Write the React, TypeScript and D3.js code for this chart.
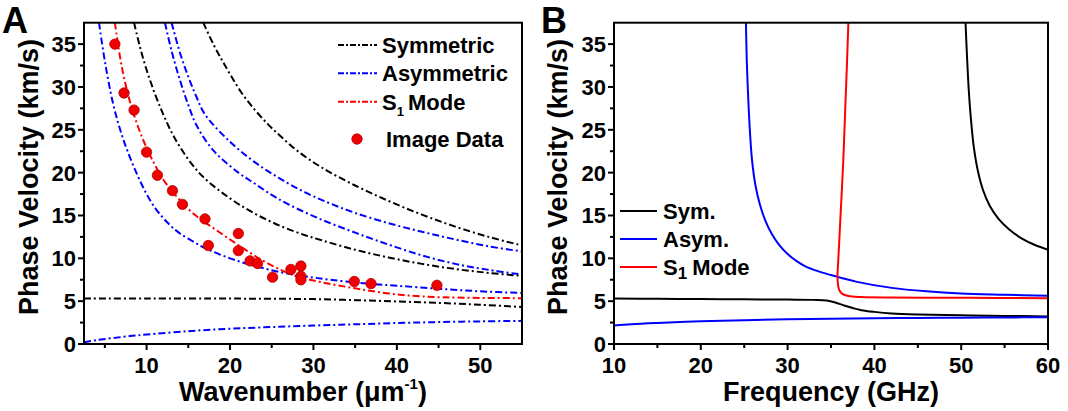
import * as d3 from "d3";

// ---------- panel A: wavenumber (um^-1) vs phase velocity (km/s) ----------
const symFlatA = [[2.5, 5.3], [10, 5.3], [20, 5.3], [25, 5.28], [30, 5.24], [35, 5.12], [40, 4.97], [45, 4.8], [50, 4.58], [55, 4.32]];
const symMidA = [[8.5, 37.5], [9.2, 34.7], [10, 32], [11, 29.2], [12, 26.8], [13, 24.7], [14, 23.0], [15.5, 20.9], [17, 19.3], [20, 17.0], [23, 15.2], [26, 13.8], [29, 12.7], [31, 12.1], [35, 11.0], [39, 10.1], [43, 9.35], [47, 8.75], [51, 8.3], [55, 7.95]];
const symTopA = [[16.8, 37.5], [18, 35], [19, 33.2], [20, 31.5], [21.4, 29.3], [23, 27.3], [24.6, 25.6], [26, 24.3], [28, 22.6], [31, 20.6], [35, 18.5], [39, 16.7], [43, 15.1], [47, 13.7], [51, 12.5], [55, 11.5]];
const asymLowA = [[2.5, 0.2], [4, 0.45], [6, 0.7], [8, 0.92], [10, 1.1], [15, 1.5], [20, 1.78], [25, 1.98], [30, 2.15], [35, 2.3], [40, 2.45], [45, 2.56], [50, 2.64], [55, 2.7]];
const asymLeftA = [[4.3, 37.5], [5, 33], [6, 28], [7, 24.5], [8, 21.8], [9, 19.5], [10, 17.5], [11, 15.9], [12, 14.7], [13, 13.7], [14, 12.9], [15.5, 12.0], [17, 11.2], [20, 10.0], [23, 9.1], [26, 8.4], [29, 7.9], [32, 7.5], [36, 7.1], [40, 6.8], [45, 6.45], [50, 6.15], [55, 5.95]];
const asymInnerA = [[12.2, 37.5], [13, 34.2], [14, 30.8], [15, 27.9], [16, 25.5], [18, 22.6], [21, 20.0], [23, 18.7], [25, 17.4], [27, 16.3], [31, 14.5], [35, 13.0], [39, 11.6], [43, 10.35], [47, 9.35], [51, 8.65], [55, 8.1]];
const asymOuterA = [[13, 37.5], [14, 34], [15, 31.2], [16, 28.8], [17, 26.8], [20, 23.6], [23, 21.2], [26, 19.3], [29, 17.7], [32, 16.4], [35, 15.3], [39, 14.1], [43, 13.1], [47, 12.2], [51, 11.4], [55, 10.8]];
const s1A = [[6.2, 37.5], [7, 32.5], [8, 28.3], [9, 25.3], [10, 22.9], [11, 20.9], [12, 19.2], [13, 17.9], [14, 16.8], [15.4, 15.4], [17, 14.2], [18.2, 13.4], [20, 12.2], [22, 10.9], [24, 9.7], [26, 8.7], [28, 7.9], [31, 7.2], [35, 6.5], [39, 5.9], [43, 5.55], [48, 5.4], [55, 5.35]];
const imageData = [[6.2, 35], [7.3, 29.3], [8.5, 27.3], [10, 22.4], [11.3, 19.7], [13.1, 17.9], [14.3, 16.3], [17, 14.6], [17.4, 11.5], [21, 12.9], [21, 10.9], [22.4, 9.7], [23.3, 9.4], [25.1, 7.8], [27.3, 8.7], [28.5, 9.1], [28.5, 7.9], [28.5, 7.5], [34.9, 7.3], [36.9, 7.05], [44.8, 6.85]];

// ---------- panel B: frequency (GHz) vs phase velocity (km/s) ----------
const symLowB = [[10, 5.3], [15, 5.28], [20, 5.25], [25, 5.22], [30, 5.18], [33, 5.15], [34.5, 5.08], [35.5, 4.85], [36.5, 4.5], [37.5, 4.2], [38.5, 3.95], [40, 3.75], [42, 3.57], [45, 3.45], [50, 3.35], [55, 3.28], [60, 3.22]];
const symHighB = [[50.5, 37.5], [50.65, 34], [50.85, 30], [51.1, 26.5], [51.45, 23], [51.9, 20.3], [52.5, 18.0], [53.3, 16.1], [54.3, 14.6], [55.5, 13.4], [57, 12.3], [58.5, 11.55], [60, 11.0]];
const asymLowB = [[10, 2.15], [12, 2.3], [15, 2.45], [20, 2.65], [25, 2.78], [30, 2.88], [35, 2.95], [40, 3.0], [45, 3.04], [50, 3.07], [55, 3.1], [60, 3.12]];
const asymHighB = [[25.2, 37.5], [25.3, 33], [25.45, 29], [25.65, 25], [25.9, 21.5], [26.3, 18.5], [26.8, 16.3], [27.4, 14.5], [28.2, 12.8], [29, 11.6], [30, 10.5], [31, 9.7], [32, 9.1], [33.5, 8.5], [35, 8.05], [38, 7.25], [42, 6.55], [46, 6.15], [50, 5.9], [55, 5.75], [60, 5.62]];
const s1B = [[37.0, 37.5], [36.85, 33], [36.7, 29], [36.55, 25], [36.4, 21], [36.2, 17], [36.0, 13], [35.85, 10], [35.75, 8], [35.8, 7], [35.95, 6.3], [36.3, 5.85], [37, 5.6], [38.5, 5.48], [42, 5.42], [48, 5.4], [54, 5.37], [60, 5.35]];

const velTicks = [0, 5, 10, 15, 20, 25, 30, 35];
const velMinor = [2.5, 7.5, 12.5, 17.5, 22.5, 27.5, 32.5];
const waveTicks = [10, 20, 30, 40, 50];
const waveMinor = [5, 15, 25, 35, 45];
const freqTicks = [10, 20, 30, 40, 50, 60];
const freqMinor = [15, 25, 35, 45, 55];

const FONT = "'Liberation Sans', Arial, sans-serif";
const BLACK = "#000000";
const BLUE = "#0000ff";
const RED = "#ff0000";
const DASH = "7,3,2,3";

const yScale = d3.scaleLinear().domain([0, 37.5]).range([344, 22.7]);
const xA = d3.scaleLinear().domain([2.5, 55]).range([84, 522]);
const xB = d3.scaleLinear().domain([10, 60]).range([614, 1048]);

const Axes = ({ x, major, minor, id }) => {
  const [x0, x1] = x.range();
  const [y0, y1] = yScale.range();
  return (
    <g>
      <clipPath id={id}>
        <rect x={x0} y={y1} width={x1 - x0} height={y0 - y1} />
      </clipPath>
      {major.map((t) => (
        <g key={"xm" + t}>
          <line x1={x(t)} x2={x(t)} y1={y0} y2={y0 + 6} stroke="#000" strokeWidth={2} />
          <text x={x(t)} y={373} textAnchor="middle" fontSize={22} fontWeight="bold" fontFamily={FONT}>{t}</text>
        </g>
      ))}
      {minor.map((t) => (
        <line key={"xn" + t} x1={x(t)} x2={x(t)} y1={y0} y2={y0 + 4} stroke="#000" strokeWidth={2} />
      ))}
      {velTicks.map((t) => (
        <g key={"ym" + t}>
          <line x1={x0 - 6} x2={x0} y1={yScale(t)} y2={yScale(t)} stroke="#000" strokeWidth={2} />
          <text x={x0 - 8} y={yScale(t)} dy="0.36em" textAnchor="end" fontSize={22} fontWeight="bold" fontFamily={FONT}>{t}</text>
        </g>
      ))}
      {velMinor.map((t) => (
        <line key={"yn" + t} x1={x0 - 4} x2={x0} y1={yScale(t)} y2={yScale(t)} stroke="#000" strokeWidth={2} />
      ))}
    </g>
  );
};

const Frame = ({ x }) => {
  const [x0, x1] = x.range();
  const [y0, y1] = yScale.range();
  return <rect x={x0} y={y1} width={x1 - x0} height={y0 - y1} fill="none" stroke="#000" strokeWidth={2} />;
};

export default function App() {
  const lineA = d3.line().x((d) => xA(d[0])).y((d) => yScale(d[1])).curve(d3.curveCatmullRom.alpha(0.5));
  const lineB = d3.line().x((d) => xB(d[0])).y((d) => yScale(d[1])).curve(d3.curveCatmullRom.alpha(0.5));

  const dashedA = [
    [symFlatA, BLACK], [symMidA, BLACK], [symTopA, BLACK],
    [asymLowA, BLUE], [asymLeftA, BLUE], [asymInnerA, BLUE], [asymOuterA, BLUE],
    [s1A, RED],
  ];
  const solidB = [
    [symLowB, BLACK], [symHighB, BLACK], [asymLowB, BLUE], [asymHighB, BLUE], [s1B, RED],
  ];

  const legendA = [["Symmetric", BLACK, 45], ["Asymmetric", BLUE, 73.3], ["S", RED, 101.7]];
  const legendB = [["Sym.", BLACK, 211], ["Asym.", BLUE, 239], ["S", RED, 267]];

  return (
    <svg width={1068} height={411} style={{ position: "absolute", left: 0, top: 0, background: "#fff" }}>
      <rect width={1068} height={411} fill="#fff" />

      {/* panel A */}
      <Axes x={xA} major={waveTicks} minor={waveMinor} id="clipA" />
      <g clipPath="url(#clipA)">
        {dashedA.map(([data, c], i) => (
          <path key={i} d={lineA(data)} fill="none" stroke={c} strokeWidth={2} strokeDasharray={DASH} />
        ))}
        {imageData.map((d, i) => (
          <circle key={i} cx={xA(d[0])} cy={yScale(d[1])} r={5.2} fill="#f00000" stroke="#b00000" strokeWidth={0.8} />
        ))}
      </g>
      <Frame x={xA} />

      {legendA.map(([label, c, y]) => (
        <g key={label}>
          <line x1={338} x2={377} y1={y} y2={y} stroke={c} strokeWidth={2} strokeDasharray="6,2,2,2" />
          <text x={382} y={y} dy="0.36em" fontSize={22} fontWeight="bold" fontFamily={FONT}>
            {label}
            {label === "S" && <tspan fontSize={13} dy={6}>1</tspan>}
            {label === "S" && <tspan dy={-6} dx={4}>Mode</tspan>}
          </text>
        </g>
      ))}
      <circle cx={357} cy={139} r={5.2} fill="#f00000" stroke="#b00000" strokeWidth={0.8} />
      <text x={386} y={139} dy="0.36em" fontSize={22} fontWeight="bold" fontFamily={FONT}>Image Data</text>

      <text x={303} y={401} textAnchor="middle" fontSize={27} fontWeight="bold" fontFamily={FONT}>
        Wavenumber (μm<tspan fontSize={15} dy={-12}>-1</tspan><tspan dy={12}>)</tspan>
      </text>
      <text transform="translate(28,177) rotate(-90)" dy="0.36em" textAnchor="middle" fontSize={27} fontWeight="bold" fontFamily={FONT}>
        Phase Velocity (km/s)
      </text>
      <text x={2} y={33} fontSize={36} fontWeight="bold" fontFamily={FONT}>A</text>

      {/* panel B */}
      <Axes x={xB} major={freqTicks} minor={freqMinor} id="clipB" />
      <g clipPath="url(#clipB)">
        {solidB.map(([data, c], i) => (
          <path key={i} d={lineB(data)} fill="none" stroke={c} strokeWidth={2} />
        ))}
      </g>
      <Frame x={xB} />

      {legendB.map(([label, c, y]) => (
        <g key={label}>
          <line x1={620} x2={657} y1={y} y2={y} stroke={c} strokeWidth={2} />
          <text x={663} y={y} dy="0.36em" fontSize={22} fontWeight="bold" fontFamily={FONT}>
            {label}
            {label === "S" && <tspan fontSize={17} dy={4}>1</tspan>}
            {label === "S" && <tspan dy={-4} dx={5}>Mode</tspan>}
          </text>
        </g>
      ))}

      <text x={831} y={401} textAnchor="middle" fontSize={27} fontWeight="bold" fontFamily={FONT}>
        Frequency (GHz)
      </text>
      <text transform="translate(557,177) rotate(-90)" dy="0.36em" textAnchor="middle" fontSize={27} fontWeight="bold" fontFamily={FONT}>
        Phase Velocity (km/s)
      </text>
      <text x={541} y={33} fontSize={36} fontWeight="bold" fontFamily={FONT}>B</text>
    </svg>
  );
}
